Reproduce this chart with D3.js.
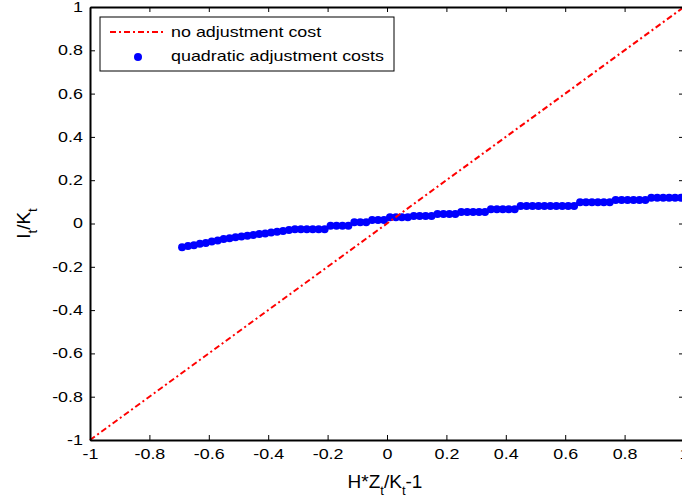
<!DOCTYPE html>
<html>
<head>
<meta charset="utf-8">
<script src="https://cdn.jsdelivr.net/npm/d3@7"></script>
<style>
  body { margin: 0; background: #fff; }
  text { font-family: "Liberation Sans", Arial, sans-serif; fill: #000; }
</style>
</head>
<body>
<svg width="682" height="503"></svg>
<script>
// tick values on both axes
var xTicks = [-1, -0.8, -0.6, -0.4, -0.2, 0, 0.2, 0.4, 0.6, 0.8, 1];
var yTicks = [-1, -0.8, -0.6, -0.4, -0.2, 0, 0.2, 0.4, 0.6, 0.8, 1];

// "no adjustment cost" : 45 degree line
var noAdjX = [-1, 1];
var noAdjY = [-1, 1];

// "quadratic adjustment costs"
var quadX = [-0.69, -0.67, -0.65, -0.63, -0.61, -0.59, -0.57, -0.55, -0.53, -0.51,
             -0.49, -0.47, -0.45, -0.43, -0.41, -0.39, -0.37, -0.35, -0.33, -0.31,
             -0.29, -0.27, -0.25, -0.23, -0.21, -0.19, -0.17, -0.15, -0.13, -0.11,
             -0.09, -0.07, -0.05, -0.03, -0.01, 0.01, 0.03, 0.05, 0.07, 0.09,
             0.11, 0.13, 0.15, 0.17, 0.19, 0.21, 0.23, 0.25, 0.27, 0.29,
             0.31, 0.33, 0.35, 0.37, 0.39, 0.41, 0.43, 0.45, 0.47, 0.49,
             0.51, 0.53, 0.55, 0.57, 0.59, 0.61, 0.63, 0.65, 0.67, 0.69,
             0.71, 0.73, 0.75, 0.77, 0.79, 0.81, 0.83, 0.85, 0.87, 0.89,
             0.91, 0.93, 0.95, 0.97, 0.99];
var quadY = [-0.110, -0.104, -0.100, -0.094, -0.090, -0.083, -0.078, -0.072, -0.068, -0.064,
             -0.060, -0.057, -0.053, -0.049, -0.046, -0.042, -0.038, -0.035, -0.030, -0.027,
             -0.027, -0.027, -0.027, -0.027, -0.027, -0.010, -0.010, -0.010, -0.010, 0.006,
             0.006, 0.006, 0.016, 0.016, 0.016, 0.029, 0.029, 0.029, 0.029, 0.035,
             0.035, 0.035, 0.035, 0.044, 0.044, 0.044, 0.044, 0.053, 0.053, 0.053,
             0.053, 0.053, 0.066, 0.066, 0.066, 0.066, 0.066, 0.081, 0.081, 0.081,
             0.081, 0.081, 0.081, 0.081, 0.081, 0.081, 0.081, 0.098, 0.098, 0.098,
             0.098, 0.098, 0.098, 0.108, 0.108, 0.108, 0.108, 0.108, 0.108, 0.119,
             0.119, 0.119, 0.119, 0.119, 0.119];

var svg = d3.select("svg");
var plotL = 90, plotR = 684, plotT = 7, plotB = 440;
var stretch = 1.28; // the picture's small text is wider than it is tall

var x = d3.scaleLinear().domain([-1, 1]).range([plotL, plotR]);
var y = d3.scaleLinear().domain([-1, 1]).range([plotB, plotT]);

function fmt(d) { return String(+d.toFixed(1)); }

// blue dots first, red line drawn over them
svg.append("g").selectAll("circle")
  .data(quadX.map(function(d, i) { return [d, quadY[i]]; }))
  .enter().append("circle")
  .attr("cx", function(d) { return x(d[0]); })
  .attr("cy", function(d) { return y(d[1]); })
  .attr("r", 4)
  .attr("fill", "#0000ff");

var line = d3.line().x(function(d) { return x(d[0]); }).y(function(d) { return y(d[1]); });
svg.append("path")
  .datum(noAdjX.map(function(d, i) { return [d, noAdjY[i]]; }))
  .attr("d", line)
  .attr("fill", "none")
  .attr("stroke", "#ff0000")
  .attr("stroke-width", 2)
  .attr("stroke-dasharray", "6,3,2,3");

// axes, ticks pointing inward on all four sides
var gx = svg.append("g").attr("transform", "translate(0," + plotB + ")")
  .call(d3.axisBottom(x).tickValues(xTicks).tickFormat(fmt).tickSize(-5).tickSizeOuter(0).tickPadding(9));
svg.append("g").attr("transform", "translate(0," + plotT + ")")
  .call(d3.axisTop(x).tickValues(xTicks).tickFormat("").tickSize(-5).tickSizeOuter(0));
var gy = svg.append("g").attr("transform", "translate(" + plotL + ",0)")
  .call(d3.axisLeft(y).tickValues(yTicks).tickFormat(fmt).tickSize(-5).tickSizeOuter(0).tickPadding(7));
svg.append("g").attr("transform", "translate(" + plotR + ",0)")
  .call(d3.axisRight(y).tickValues(yTicks).tickFormat("").tickSize(-5).tickSizeOuter(0));

svg.selectAll(".domain").attr("stroke", "#000").attr("stroke-width", 2);
svg.selectAll(".tick line").attr("stroke", "#000").attr("stroke-width", 1);
svg.selectAll(".tick text").attr("font-size", 14).attr("font-family", null).attr("fill", "#000");
gx.selectAll(".tick text").attr("transform", "scale(" + stretch + ",1)");
gy.selectAll(".tick text").attr("x", -7 / stretch).attr("transform", "scale(" + stretch + ",1)");

// axis titles
var xl = svg.append("text")
  .attr("x", 385).attr("y", 488)
  .attr("text-anchor", "middle").attr("font-size", 19);
xl.append("tspan").text("H*Z");
xl.append("tspan").attr("dy", 7).attr("font-size", 13).text("t");
xl.append("tspan").attr("dy", -7).text("/K");
xl.append("tspan").attr("dy", 7).attr("font-size", 13).text("t");
xl.append("tspan").attr("dy", -7).text("-1");

var yl = svg.append("text")
  .attr("transform", "translate(30," + y(0) + ") rotate(-90)")
  .attr("text-anchor", "middle").attr("font-size", 19);
yl.append("tspan").text("I");
yl.append("tspan").attr("dy", 7).attr("font-size", 13).text("t");
yl.append("tspan").attr("dy", -7).text("/K");
yl.append("tspan").attr("dy", 7).attr("font-size", 13).text("t");

// legend
var lg = svg.append("g");
lg.append("rect")
  .attr("x", 100).attr("y", 17).attr("width", 294).attr("height", 54)
  .attr("fill", "#fff").attr("stroke", "#000").attr("stroke-width", 1);
lg.append("line")
  .attr("x1", 110).attr("x2", 165).attr("y1", 32).attr("y2", 32)
  .attr("stroke", "#ff0000").attr("stroke-width", 2)
  .attr("stroke-dasharray", "6,3,2,3");
lg.append("circle").attr("cx", 138).attr("cy", 57).attr("r", 4).attr("fill", "#0000ff");
lg.append("text").attr("transform", "translate(171,37) scale(" + stretch + ",1)")
  .attr("font-size", 14).text("no adjustment cost");
lg.append("text").attr("transform", "translate(171,61) scale(" + stretch + ",1)")
  .attr("font-size", 14).text("quadratic adjustment costs");
</script>
</body>
</html>
